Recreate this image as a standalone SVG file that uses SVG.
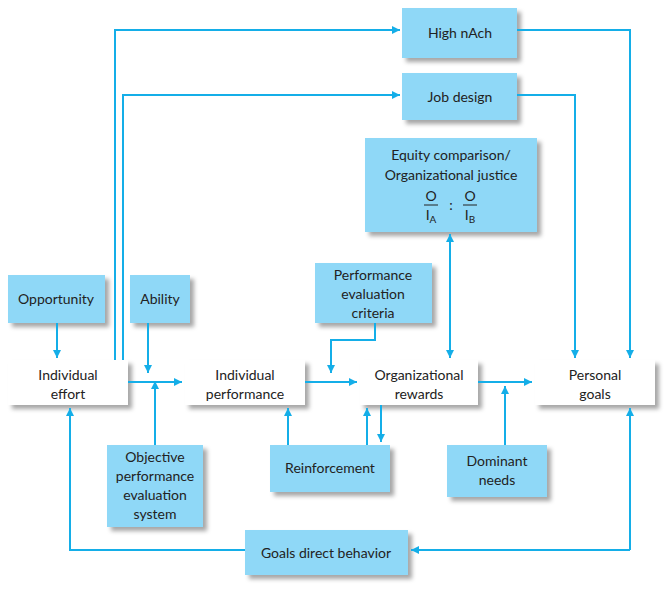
<svg xmlns="http://www.w3.org/2000/svg" width="671" height="593" viewBox="0 0 671 593">
<defs>
<filter id="sh" x="-10%" y="-10%" width="130%" height="140%"><feDropShadow dx="4" dy="4" stdDeviation="2" flood-color="#000" flood-opacity="0.35"/></filter>
<marker id="ar" viewBox="0 0 10 10" refX="10" refY="5" markerWidth="8" markerHeight="8" markerUnits="userSpaceOnUse" orient="auto-start-reverse"><path d="M0,0 L10,5 L0,10 z" fill="#14aee8"/></marker>
</defs>
<style>
.b{fill:#8fd8f7;filter:url(#sh)}
.w{fill:#fff;filter:url(#sh)}
text{font-family:Lato,"Noto Sans",sans-serif;font-size:14px;fill:#222;text-anchor:middle}
.c path{fill:none;stroke:#14aee8;stroke-width:2}
</style>
<rect width="671" height="593" fill="#fff"/>
<g id="highnach"><rect class="b" x="402" y="8" width="115" height="50"/><text x="460" y="38">High nAch</text></g>
<g id="jobdesign"><rect class="b" x="402" y="73" width="115" height="47"/><text x="460" y="102">Job design</text></g>
<g id="equity"><rect class="b" x="365" y="138" width="172" height="94"/><text x="451" y="160">Equity comparison/</text><text x="451" y="180">Organizational justice</text>
<text x="431" y="201">O</text><path d="M424,205 H438" stroke="#222" stroke-width="1"/><text x="431" y="220">I<tspan font-size="10" dy="3">A</tspan></text>
<text x="451" y="210">:</text>
<text x="470" y="201">O</text><path d="M463,205 H477" stroke="#222" stroke-width="1"/><text x="470" y="220">I<tspan font-size="10" dy="3">B</tspan></text></g>
<g id="opportunity"><rect class="b" x="8" y="275" width="97" height="48"/><text x="56" y="304">Opportunity</text></g>
<g id="ability"><rect class="b" x="130" y="275" width="60" height="48"/><text x="160" y="304">Ability</text></g>
<g id="criteria"><rect class="b" x="315" y="263" width="117" height="60"/><text x="373" y="280">Performance</text><text x="373" y="299">evaluation</text><text x="373" y="318">criteria</text></g>
<g id="effort"><rect class="w" x="8" y="360" width="120" height="45"/><text x="68" y="380">Individual</text><text x="68" y="399">effort</text></g>
<g id="performance"><rect class="w" x="185" y="360" width="120" height="45"/><text x="245" y="380">Individual</text><text x="245" y="399">performance</text></g>
<g id="rewards"><rect class="w" x="360" y="360" width="118" height="45"/><text x="419" y="380">Organizational</text><text x="419" y="399">rewards</text></g>
<g id="goals"><rect class="w" x="535" y="360" width="120" height="45"/><text x="595" y="380">Personal</text><text x="595" y="399">goals</text></g>
<g id="objective"><rect class="b" x="107" y="445" width="96" height="82"/><text x="155" y="462">Objective</text><text x="155" y="481">performance</text><text x="155" y="500">evaluation</text><text x="155" y="519">system</text></g>
<g id="reinforcement"><rect class="b" x="270" y="445" width="120" height="47"/><text x="330" y="473">Reinforcement</text></g>
<g id="dominant"><rect class="b" x="447" y="445" width="100" height="52"/><text x="497" y="466">Dominant</text><text x="497" y="485">needs</text></g>
<g id="goalsdirect"><rect class="b" x="245" y="530" width="163" height="45"/><text x="326" y="558">Goals direct behavior</text></g>
<g class="c">
<path d="M115,360 V30 H400" marker-end="url(#ar)"/>
<path d="M123,360 V95 H400" marker-end="url(#ar)"/>
<path d="M517,30 H630 V358" marker-end="url(#ar)"/>
<path d="M517,95 H575 V358" marker-end="url(#ar)"/>
<path d="M450,234 V358" marker-start="url(#ar)" marker-end="url(#ar)"/>
<path d="M57,323 V358" marker-end="url(#ar)"/>
<path d="M148,323 V373" marker-end="url(#ar)"/>
<path d="M128,382 H182" marker-end="url(#ar)"/>
<path d="M155,445 V381" marker-end="url(#ar)"/>
<path d="M305,382 H357" marker-end="url(#ar)"/>
<path d="M375,323 V340 H331 V373" marker-end="url(#ar)"/>
<path d="M478,382 H532" marker-end="url(#ar)"/>
<path d="M505,445 V386" marker-end="url(#ar)"/>
<path d="M288,445 V408" marker-end="url(#ar)"/>
<path d="M367,445 V408" marker-end="url(#ar)"/>
<path d="M381,405 V442" marker-end="url(#ar)"/>
<path d="M630,550 V408" marker-end="url(#ar)"/>
<path d="M630,550 H411" marker-end="url(#ar)"/>
<path d="M245,550 H70 V408" marker-end="url(#ar)"/>
</g>
</svg>
